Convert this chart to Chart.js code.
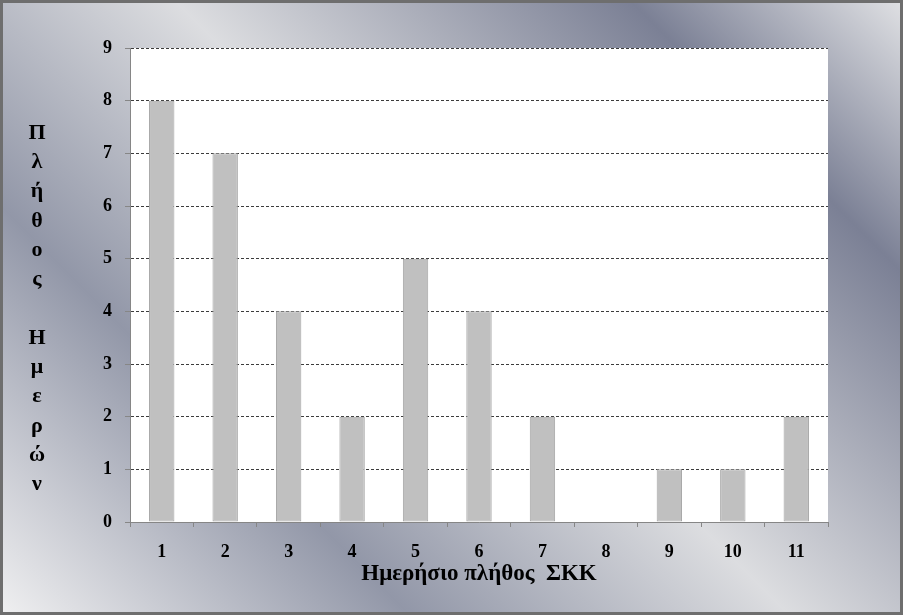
<!DOCTYPE html>
<html>
<head>
<meta charset="utf-8">
<script src="https://cdn.jsdelivr.net/npm/chart.js@4/dist/chart.umd.min.js"></script>
<style>
  html, body { margin: 0; padding: 0; background: #fff; }
  #wrap { width: 903px; height: 615px; }
</style>
</head>
<body>
<div id="wrap"><canvas id="c" width="903" height="615"></canvas></div>
<script>
// data
const categories = ['1', '2', '3', '4', '5', '6', '7', '8', '9', '10', '11'];
const counts = [8, 7, 4, 2, 5, 4, 2, 0, 1, 1, 2];
const yMin = 0, yMax = 9, yStep = 1;
const xTitle = 'Ημερήσιο πλήθος  ΣΚΚ';
const yTitleLines = ['Π', 'λ', 'ή', 'θ', 'ο', 'ς', '', 'Η', 'μ', 'ε', 'ρ', 'ώ', 'ν'];

const SERIF = "'Liberation Serif', 'Times New Roman', serif";
const AXIS_GREY = '#868686';

// chrome backdrop: diagonal banded gradient, white plot area, dark frame
const backdrop = {
  id: 'backdrop',
  beforeDraw(chart) {
    const { ctx, width: w, height: h, chartArea: a } = chart;
    ctx.save();
    // bands run along x - y = const; go from bottom-left corner to top-right corner
    const s = (w + h) / 2;
    const g = ctx.createLinearGradient(0, h, s, h - s);
    g.addColorStop(0.00, '#f0f0f1');
    g.addColorStop(0.27, '#9297a8');
    g.addColorStop(0.52, '#dcdde0');
    g.addColorStop(0.82, '#7b8095');
    g.addColorStop(1.00, '#e0e1e4');
    ctx.fillStyle = g;
    ctx.fillRect(0, 0, w, h);
    ctx.fillStyle = '#fff';
    ctx.fillRect(a.left, a.top, a.right - a.left, a.bottom - a.top);
    ctx.restore();
  },
  afterDraw(chart) {
    const { ctx, width: w, height: h } = chart;
    ctx.save();
    ctx.strokeStyle = '#6e6e6e';
    ctx.lineWidth = 3;
    ctx.strokeRect(1.5, 1.5, w - 3, h - 3);
    ctx.restore();
  }
};

// y title is written one letter per line, as in the original
const stackedTitle = {
  id: 'stackedTitle',
  afterDraw(chart) {
    const { ctx } = chart;
    ctx.save();
    ctx.fillStyle = '#000';
    ctx.font = 'bold 22px ' + SERIF;
    ctx.textAlign = 'center';
    ctx.textBaseline = 'middle';
    yTitleLines.forEach((ch, i) => { if (ch) ctx.fillText(ch, 37, 133 + i * 29.3); });
    ctx.restore();
  }
};

new Chart(document.getElementById('c'), {
  type: 'bar',
  data: {
    labels: categories,
    datasets: [{
      data: counts,
      backgroundColor: '#c0c0c0',
      borderColor: '#a4a4a4',
      borderWidth: 1,
      borderSkipped: false,
      barPercentage: 0.4,
      categoryPercentage: 1.0
    }]
  },
  options: {
    responsive: false,
    animation: false,
    layout: { padding: { left: 0, top: 48, right: 75, bottom: 0 } },
    plugins: { legend: { display: false }, tooltip: { enabled: false } },
    scales: {
      x: {
        grid: { drawOnChartArea: false, drawTicks: true, tickLength: 5, tickColor: AXIS_GREY, offset: true },
        border: { display: true, color: AXIS_GREY, width: 1 },
        ticks: { color: '#000', padding: 15, font: { family: SERIF, size: 18, weight: 'bold' } },
        title: { display: true, text: xTitle, color: '#000', padding: { top: 0, bottom: 27 },
                 font: { family: SERIF, size: 23, weight: 'bold' } },
        afterFit(scale) { scale.height = 93; }
      },
      y: {
        min: yMin, max: yMax,
        grid: {
          color: (c) => (c.tick && c.tick.value === 0 ? 'rgba(0,0,0,0)' : '#3c3c3c'),
          lineWidth: 1, drawTicks: true, tickLength: 5, tickColor: AXIS_GREY
        },
        border: { display: true, color: AXIS_GREY, width: 1, dash: [3, 2] },
        ticks: { stepSize: yStep, color: '#000', padding: 13, font: { family: SERIF, size: 18, weight: 'bold' } },
        afterFit(scale) { scale.width = 130; }
      }
    }
  },
  plugins: [backdrop, stackedTitle]
});
</script>
</body>
</html>
